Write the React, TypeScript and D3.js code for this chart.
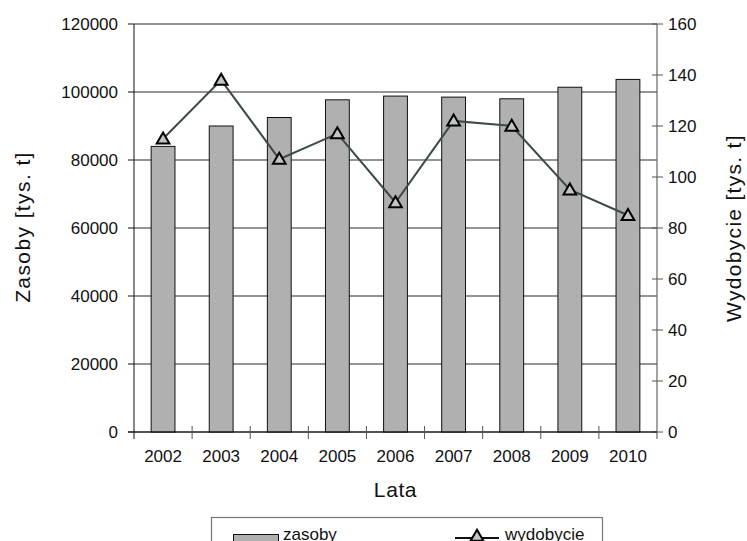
import React from "react";
import * as d3 from "d3";

const years = ["2002", "2003", "2004", "2005", "2006", "2007", "2008", "2009", "2010"];
const zasoby = [84000, 90000, 92500, 97700, 98800, 98500, 98000, 101400, 103700];
const wydobycie = [115, 138, 107, 117, 90, 122, 120, 95, 85];
const leftTicks = [0, 20000, 40000, 60000, 80000, 100000, 120000];
const rightTicks = [0, 20, 40, 60, 80, 100, 120, 140, 160];

const W = 747;
const H = 541;
const M = { left: 134, right: 657, top: 24, bottom: 432 };
const FONT = "'Liberation Sans', Arial, sans-serif";

export default function App() {
  const x = d3.scaleBand<string>().domain(years).range([M.left, M.right]).padding(0);
  const yL = d3.scaleLinear().domain([0, 120000]).range([M.bottom, M.top]);
  const yR = d3.scaleLinear().domain([0, 160]).range([M.bottom, M.top]);
  const bw = x.bandwidth() * 0.41;
  const cx = (y: string) => (x(y) as number) + x.bandwidth() / 2;

  const line = d3
    .line<number>()
    .x((_, i) => cx(years[i]))
    .y((d) => yR(d));

  const tri = d3.symbol().type(d3.symbolTriangle).size(70)();
  const lineColor = "#3d4a47";
  const gridColor = "#2a2a2a";

  return (
    <svg
      width={W}
      height={H}
      style={{ position: "absolute", left: 0, top: 0, background: "#fff" }}
      fontFamily={FONT}
    >
      {/* gridlines */}
      {leftTicks.map((t) => (
        <line key={"g" + t} x1={M.left} x2={M.right} y1={yL(t)} y2={yL(t)} stroke={gridColor} strokeWidth={1} />
      ))}
      {/* bars */}
      {zasoby.map((v, i) => (
        <rect
          key={"b" + i}
          x={cx(years[i]) - bw / 2}
          y={yL(v)}
          width={bw}
          height={yL(0) - yL(v)}
          fill="#b0b0b0"
          stroke="#111"
          strokeWidth={1}
        />
      ))}
      {/* left axis */}
      <line x1={M.left} x2={M.left} y1={M.top} y2={M.bottom + 7} stroke="#111" strokeWidth={1} />
      {leftTicks.map((t) => (
        <g key={"lt" + t}>
          <line x1={M.left - 6} x2={M.left} y1={yL(t)} y2={yL(t)} stroke="#111" />
          <text x={118} y={yL(t)} dy="0.35em" textAnchor="end" fontSize={17} fill="#111">
            {t}
          </text>
        </g>
      ))}
      {/* right axis */}
      <line x1={M.right} x2={M.right} y1={M.top} y2={M.bottom + 7} stroke="#666" strokeWidth={1.2} />
      {rightTicks.map((t) => (
        <g key={"rt" + t}>
          <line x1={M.right - 5} x2={M.right + 6} y1={yR(t)} y2={yR(t)} stroke="#555" />
          <text x={668} y={yR(t)} dy="0.35em" textAnchor="start" fontSize={17} fill="#111">
            {t}
          </text>
        </g>
      ))}
      {/* bottom axis */}
      <line x1={M.left - 6} x2={M.right} y1={M.bottom} y2={M.bottom} stroke="#111" strokeWidth={1} />
      {years.map((y, i) => (
        <g key={"xt" + y}>
          {i > 0 && (
            <line x1={x(y) as number} x2={x(y) as number} y1={M.bottom - 6} y2={M.bottom + 7} stroke="#555" />
          )}
          <text x={cx(y)} y={462} textAnchor="middle" fontSize={17} fill="#111">
            {y}
          </text>
        </g>
      ))}
      {/* line series */}
      <path d={line(wydobycie) as string} fill="none" stroke={lineColor} strokeWidth={2} />
      {wydobycie.map((v, i) => (
        <path
          key={"m" + i}
          d={tri as string}
          transform={`translate(${cx(years[i])},${yR(v) + 1})`}
          fill="#c4c4c4"
          stroke="#000"
          strokeWidth={2}
        />
      ))}
      {/* axis titles */}
      <text
        transform={`translate(22,227) rotate(-90)`}
        textAnchor="middle"
        dominantBaseline="central"
        fontSize={21}
        letterSpacing={1.4}
        fill="#111"
      >
        Zasoby [tys. t]
      </text>
      <text
        transform={`translate(733,228) rotate(-90)`}
        textAnchor="middle"
        dominantBaseline="central"
        fontSize={21}
        letterSpacing={1.3}
        fill="#111"
      >
        Wydobycie [tys. t]
      </text>
      <text x={(M.left + M.right) / 2} y={497} textAnchor="middle" fontSize={21} letterSpacing={0.6} fill="#111">
        Lata
      </text>
      {/* legend */}
      <rect x={211.5} y={517.5} width={391} height={40} fill="#fff" stroke="#777" strokeWidth={1.2} />
      <rect x={233.5} y={534.5} width={45} height={12} fill="#b0b0b0" stroke="#111" strokeWidth={1} />
      <text x={283} y={540} fontSize={17} fill="#111">
        zasoby
      </text>
      <line x1={455} x2={499} y1={538} y2={538} stroke="#111" strokeWidth={2} />
      <path d={tri as string} transform={`translate(477,537)`} fill="#c4c4c4" stroke="#000" strokeWidth={2} />
      <text x={505} y={540} fontSize={17} fill="#111">
        wydobycie
      </text>
    </svg>
  );
}
